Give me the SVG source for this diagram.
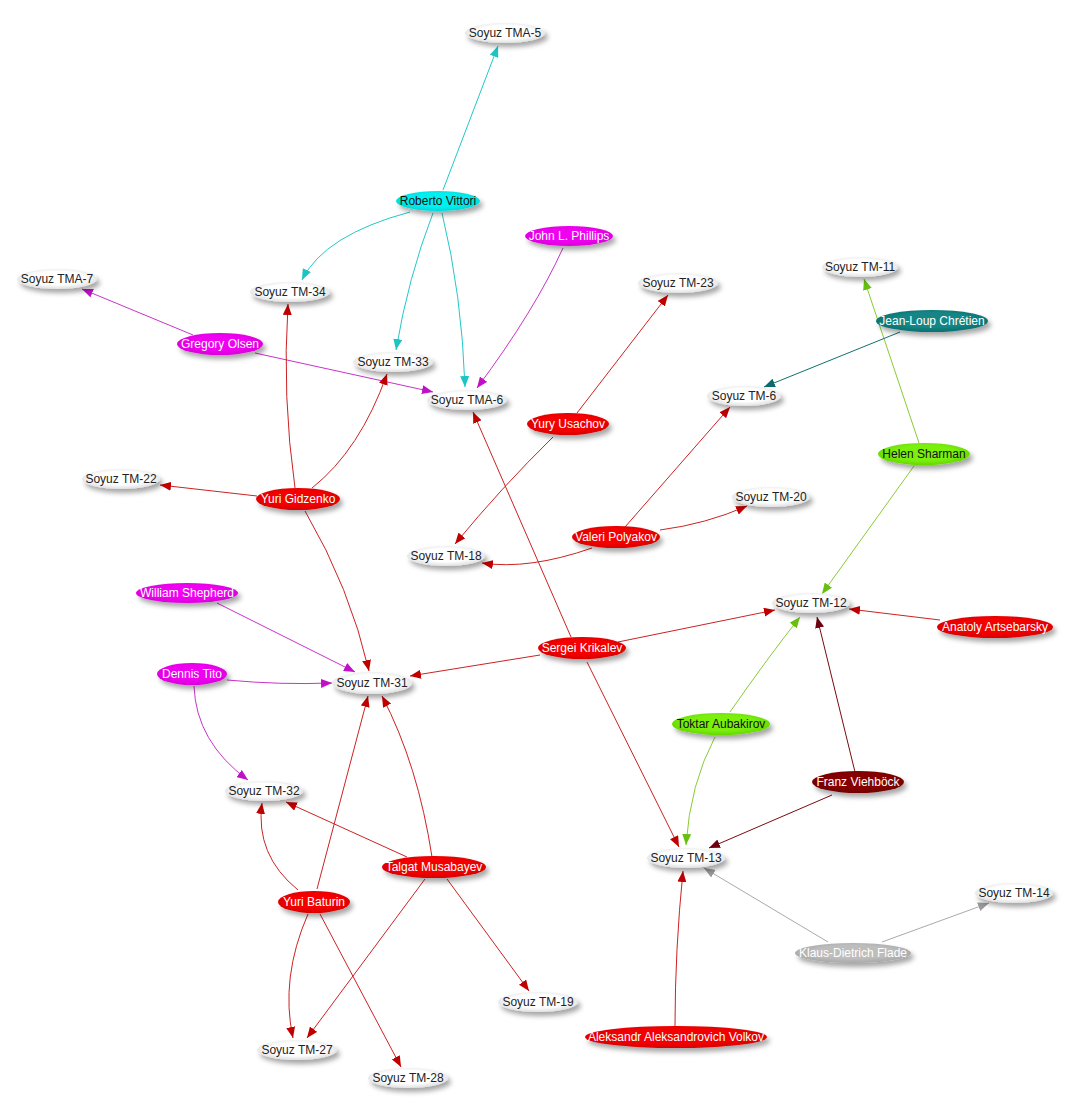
<svg xmlns="http://www.w3.org/2000/svg" width="1080" height="1109" viewBox="0 0 1080 1109">
<style>
.n text{font-family:"Liberation Sans",Arial,sans-serif;font-size:12px;text-anchor:middle;dominant-baseline:central}
.w ellipse{fill:url(#gw)}
.w text{fill:#222}
.r ellipse{fill:url(#gr)}
.c ellipse{fill:url(#gc)}
.m ellipse{fill:url(#gm)}
.t ellipse{fill:url(#gt)}
.g ellipse{fill:url(#gg)}
.b ellipse{fill:url(#gb)}
.y ellipse{fill:url(#gy)}
.r text,.m text,.t text,.b text,.y text{fill:#fff}
.c text,.g text{fill:#111}
.n ellipse{filter:url(#sh)}
.e path{fill:none;stroke-width:1}
.er{stroke:#cc2222;marker-end:url(#ar)}
.ec{stroke:#22c8c8;marker-end:url(#ac)}
.em{stroke:#c833c8;marker-end:url(#am)}
.eg{stroke:#88cc33;marker-end:url(#ag)}
.et{stroke:#107070;marker-end:url(#at)}
.eb{stroke:#7a0a10;marker-end:url(#ab)}
.ey{stroke:#aaaaaa;marker-end:url(#ay)}
</style>
<defs>
<filter id="sh" x="-30%" y="-50%" width="160%" height="220%">
<feDropShadow dx="3" dy="4" stdDeviation="2.5" flood-color="#000" flood-opacity="0.35"/>
</filter>
<radialGradient id="gw" cx="50%" cy="45%" r="55%"><stop offset="0.6" stop-color="#fff"/><stop offset="1" stop-color="#e0e0e0"/></radialGradient>
<radialGradient id="gr" cx="50%" cy="45%" r="55%"><stop offset="0.6" stop-color="#f40000"/><stop offset="1" stop-color="#d80000"/></radialGradient>
<radialGradient id="gc" cx="50%" cy="45%" r="55%"><stop offset="0.6" stop-color="#00f0f0"/><stop offset="1" stop-color="#00d8d8"/></radialGradient>
<radialGradient id="gm" cx="50%" cy="45%" r="55%"><stop offset="0.6" stop-color="#f000f0"/><stop offset="1" stop-color="#d800d8"/></radialGradient>
<radialGradient id="gt" cx="50%" cy="45%" r="55%"><stop offset="0.6" stop-color="#138585"/><stop offset="1" stop-color="#0c7070"/></radialGradient>
<radialGradient id="gg" cx="50%" cy="45%" r="55%"><stop offset="0.6" stop-color="#7cf010"/><stop offset="1" stop-color="#66d800"/></radialGradient>
<radialGradient id="gb" cx="50%" cy="45%" r="55%"><stop offset="0.6" stop-color="#860000"/><stop offset="1" stop-color="#700000"/></radialGradient>
<radialGradient id="gy" cx="50%" cy="45%" r="55%"><stop offset="0.6" stop-color="#bdbdbd"/><stop offset="1" stop-color="#a8a8a8"/></radialGradient>
<marker id="ar" markerUnits="userSpaceOnUse" markerWidth="12" markerHeight="9" refX="11" refY="4.5" orient="auto"><path d="M0,0 L11,4.5 L0,9 z" fill="#c00000"/></marker>
<marker id="ac" markerUnits="userSpaceOnUse" markerWidth="12" markerHeight="9" refX="11" refY="4.5" orient="auto"><path d="M0,0 L11,4.5 L0,9 z" fill="#1cc4c4"/></marker>
<marker id="am" markerUnits="userSpaceOnUse" markerWidth="12" markerHeight="9" refX="11" refY="4.5" orient="auto"><path d="M0,0 L11,4.5 L0,9 z" fill="#c010c8"/></marker>
<marker id="ag" markerUnits="userSpaceOnUse" markerWidth="12" markerHeight="9" refX="11" refY="4.5" orient="auto"><path d="M0,0 L11,4.5 L0,9 z" fill="#66c011"/></marker>
<marker id="at" markerUnits="userSpaceOnUse" markerWidth="12" markerHeight="9" refX="11" refY="4.5" orient="auto"><path d="M0,0 L11,4.5 L0,9 z" fill="#0c6a6a"/></marker>
<marker id="ab" markerUnits="userSpaceOnUse" markerWidth="12" markerHeight="9" refX="11" refY="4.5" orient="auto"><path d="M0,0 L11,4.5 L0,9 z" fill="#700010"/></marker>
<marker id="ay" markerUnits="userSpaceOnUse" markerWidth="12" markerHeight="9" refX="11" refY="4.5" orient="auto"><path d="M0,0 L11,4.5 L0,9 z" fill="#999"/></marker>
</defs>
<rect width="1080" height="1109" fill="#fff"/>
<g id="connectors" class="e">
<path class="ec" d="M443,190 L498,46"/>
<path class="ec" d="M410,212 Q324,235 302,280"/>
<path class="ec" d="M433,213 Q408,278 396,350"/>
<path class="ec" d="M442,213 Q462,295 465,387"/>
<path class="em" d="M563,248 Q535,310 477,388"/>
<path class="em" d="M193,335 L82,289"/>
<path class="em" d="M255,353 L433,392"/>
<path class="em" d="M217,603 L355,672"/>
<path class="em" d="M227,680 Q280,685 332,683"/>
<path class="em" d="M194,686 Q196,742 248,780"/>
<path class="er" d="M295,488 Q282,397 288,304"/>
<path class="er" d="M312,488 Q360,450 387,374"/>
<path class="er" d="M257,496 L160,485"/>
<path class="er" d="M305,511 Q350,588 369,671"/>
<path class="er" d="M577,413 L668,295"/>
<path class="er" d="M553,437 Q501,488 455,544"/>
<path class="er" d="M625,527 L730,407"/>
<path class="er" d="M660,530 Q706,524 747,506"/>
<path class="er" d="M592,548 Q529,570 482,563"/>
<path class="er" d="M571,637 L473,412"/>
<path class="er" d="M618,642 L775,610"/>
<path class="er" d="M540,655 L410,676"/>
<path class="er" d="M587,662 L679,847"/>
<path class="er" d="M940,620 L849,609"/>
<path class="er" d="M432,857 Q418,765 382,696"/>
<path class="er" d="M407,857 L286,802"/>
<path class="er" d="M425,879 L307,1038"/>
<path class="er" d="M447,879 L529,991"/>
<path class="er" d="M317,889 L368,696"/>
<path class="er" d="M298,890 Q255,855 262,803"/>
<path class="er" d="M308,914 Q280,978 293,1038"/>
<path class="er" d="M320,914 L401,1067"/>
<path class="er" d="M675,1026 Q675,950 683,871"/>
<path class="eg" d="M919,443 L864,279"/>
<path class="eg" d="M914,466 L822,594"/>
<path class="eg" d="M730,712 Q769,656 800,617"/>
<path class="eg" d="M715,737 Q690,784 686,845"/>
<path class="et" d="M900,332 L764,387"/>
<path class="eb" d="M855,772 L817,617"/>
<path class="eb" d="M832,795 L709,848"/>
<path class="ey" d="M828,942 L704,868"/>
<path class="ey" d="M882,942 L989,903"/>
</g>
<g id="n-soyuz-tma-5" class="n w"><ellipse cx="505" cy="33" rx="40" ry="10"/><text x="505" y="33">Soyuz TMA-5</text></g>
<g id="n-roberto-vittori" class="n c"><ellipse cx="438" cy="201" rx="42" ry="10"/><text x="438" y="201">Roberto Vittori</text></g>
<g id="n-john-l-phillips" class="n m"><ellipse cx="569" cy="236" rx="44" ry="10"/><text x="569" y="236">John L. Phillips</text></g>
<g id="n-soyuz-tm-34" class="n w"><ellipse cx="290" cy="292" rx="40" ry="10"/><text x="290" y="292">Soyuz TM-34</text></g>
<g id="n-soyuz-tma-7" class="n w"><ellipse cx="57" cy="279" rx="40" ry="10"/><text x="57" y="279">Soyuz TMA-7</text></g>
<g id="n-gregory-olsen" class="n m"><ellipse cx="220" cy="344" rx="43" ry="11"/><text x="220" y="344">Gregory Olsen</text></g>
<g id="n-soyuz-tm-23" class="n w"><ellipse cx="678" cy="283" rx="40" ry="10"/><text x="678" y="283">Soyuz TM-23</text></g>
<g id="n-soyuz-tm-11" class="n w"><ellipse cx="860" cy="267" rx="38" ry="10"/><text x="860" y="267">Soyuz TM-11</text></g>
<g id="n-jean-loup-chretien" class="n t"><ellipse cx="932" cy="321" rx="56" ry="11"/><text x="932" y="321">Jean-Loup Chrétien</text></g>
<g id="n-soyuz-tm-33" class="n w"><ellipse cx="393" cy="362" rx="40" ry="10"/><text x="393" y="362">Soyuz TM-33</text></g>
<g id="n-soyuz-tma-6" class="n w"><ellipse cx="467" cy="400" rx="40" ry="10"/><text x="467" y="400">Soyuz TMA-6</text></g>
<g id="n-soyuz-tm-6" class="n w"><ellipse cx="744" cy="396" rx="37" ry="10"/><text x="744" y="396">Soyuz TM-6</text></g>
<g id="n-yury-usachov" class="n r"><ellipse cx="568" cy="424" rx="41" ry="11"/><text x="568" y="424">Yury Usachov</text></g>
<g id="n-helen-sharman" class="n g"><ellipse cx="924" cy="454" rx="46" ry="11"/><text x="924" y="454">Helen Sharman</text></g>
<g id="n-soyuz-tm-22" class="n w"><ellipse cx="121" cy="479" rx="39" ry="10"/><text x="121" y="479">Soyuz TM-22</text></g>
<g id="n-yuri-gidzenko" class="n r"><ellipse cx="298" cy="499" rx="42" ry="11"/><text x="298" y="499">Yuri Gidzenko</text></g>
<g id="n-soyuz-tm-20" class="n w"><ellipse cx="771" cy="497" rx="39" ry="10"/><text x="771" y="497">Soyuz TM-20</text></g>
<g id="n-valeri-polyakov" class="n r"><ellipse cx="616" cy="537" rx="44" ry="11"/><text x="616" y="537">Valeri Polyakov</text></g>
<g id="n-soyuz-tm-18" class="n w"><ellipse cx="446" cy="556" rx="39" ry="10"/><text x="446" y="556">Soyuz TM-18</text></g>
<g id="n-william-shepherd" class="n m"><ellipse cx="187" cy="593" rx="51" ry="10"/><text x="187" y="593">William Shepherd</text></g>
<g id="n-soyuz-tm-12" class="n w"><ellipse cx="811" cy="603" rx="39" ry="10"/><text x="811" y="603">Soyuz TM-12</text></g>
<g id="n-anatoly-artsebarsky" class="n r"><ellipse cx="995" cy="627" rx="58" ry="11"/><text x="995" y="627">Anatoly Artsebarsky</text></g>
<g id="n-sergei-krikalev" class="n r"><ellipse cx="582" cy="648" rx="44" ry="11"/><text x="582" y="648">Sergei Krikalev</text></g>
<g id="n-dennis-tito" class="n m"><ellipse cx="192" cy="674" rx="35" ry="11"/><text x="192" y="674">Dennis Tito</text></g>
<g id="n-soyuz-tm-31" class="n w"><ellipse cx="372" cy="683" rx="40" ry="11"/><text x="372" y="683">Soyuz TM-31</text></g>
<g id="n-toktar-aubakirov" class="n g"><ellipse cx="721" cy="724" rx="49" ry="11"/><text x="721" y="724">Toktar Aubakirov</text></g>
<g id="n-franz-viehbock" class="n b"><ellipse cx="858" cy="782" rx="46" ry="11"/><text x="858" y="782">Franz Viehböck</text></g>
<g id="n-soyuz-tm-32" class="n w"><ellipse cx="264" cy="791" rx="39" ry="10"/><text x="264" y="791">Soyuz TM-32</text></g>
<g id="n-soyuz-tm-13" class="n w"><ellipse cx="686" cy="858" rx="39" ry="10"/><text x="686" y="858">Soyuz TM-13</text></g>
<g id="n-talgat-musabayev" class="n r"><ellipse cx="434" cy="867" rx="52" ry="11"/><text x="434" y="867">Talgat Musabayev</text></g>
<g id="n-soyuz-tm-14" class="n w"><ellipse cx="1014" cy="893" rx="39" ry="10"/><text x="1014" y="893">Soyuz TM-14</text></g>
<g id="n-yuri-baturin" class="n r"><ellipse cx="314" cy="902" rx="36" ry="11"/><text x="314" y="902">Yuri Baturin</text></g>
<g id="n-klaus-dietrich-flade" class="n y"><ellipse cx="853" cy="953" rx="58" ry="10"/><text x="853" y="953">Klaus-Dietrich Flade</text></g>
<g id="n-soyuz-tm-19" class="n w"><ellipse cx="538" cy="1002" rx="40" ry="10"/><text x="538" y="1002">Soyuz TM-19</text></g>
<g id="n-aleksandr-volkov" class="n r"><ellipse cx="676" cy="1037" rx="91" ry="11"/><text x="676" y="1037">Aleksandr Aleksandrovich Volkov</text></g>
<g id="n-soyuz-tm-27" class="n w"><ellipse cx="297" cy="1050" rx="40" ry="10"/><text x="297" y="1050">Soyuz TM-27</text></g>
<g id="n-soyuz-tm-28" class="n w"><ellipse cx="408" cy="1078" rx="40" ry="10"/><text x="408" y="1078">Soyuz TM-28</text></g>
</svg>
